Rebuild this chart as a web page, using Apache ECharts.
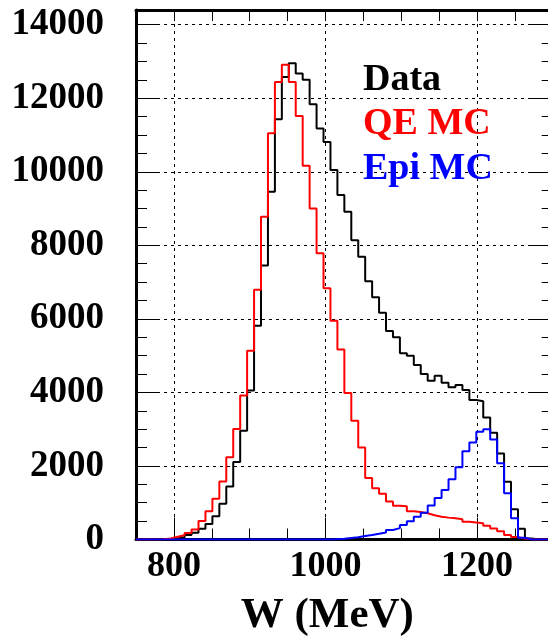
<!DOCTYPE html>
<html><head><meta charset="utf-8">
<script src="https://cdn.jsdelivr.net/npm/echarts@6/dist/echarts.min.js"></script>
<style>html,body{margin:0;padding:0;background:#fff}#c{width:548px;height:637px}</style>
</head><body><div id="c"></div>
<script>
// Histogram binning: 60 bins from 750 to 1300 MeV
const W_MIN = 750, W_MAX = 1300, N_BINS = 60;

const dataCounts = [
  0, 0, 0, 5, 15, 30, 60, 120, 185, 290,
  420, 630, 975, 1440, 2110, 2955, 4050, 5815, 7450, 9460,
  11430, 12580, 12950, 12670, 12500, 11840, 11180, 10810, 10050, 9370,
  8910, 8140, 7690, 7020, 6585, 6165, 5670, 5500, 5064, 4995,
  4746, 4500, 4320, 4450, 4265, 4140, 4200, 4066, 3794, 3760,
  3320, 2900, 2340, 1572, 825, 290, 25, 0, 0, 0
];
const qeMC = [
  0, 0, 0, 5, 25, 76, 114, 180, 275, 500,
  765, 1105, 1580, 2238, 3008, 3915, 5130, 6790, 8780, 11050,
  12440, 12910, 12440, 11520, 10165, 9000, 7785, 6830, 5950, 5170,
  3985, 3228, 2503, 1673, 1392, 1245, 1035, 920, 905, 770,
  745, 712, 660, 620, 595, 575, 548, 484, 462, 445,
  376, 300, 225, 122, 65, 25, 5, 0, 0, 0
];
const epiMC = [
  0, 0, 0, 0, 0, 0, 0, 0, 0, 0,
  0, 0, 0, 0, 0, 0, 0, 0, 0, 0,
  0, 0, 0, 0, 0, 0, 0, 0, 10, 20,
  40, 60, 95, 122, 155, 190, 258, 310, 394, 495,
  620, 730, 925, 1130, 1346, 1637, 1964, 2400, 2640, 2932,
  3000, 2720, 2072, 1256, 576, 45, 0, 0, 0, 0
];
const xMajorTicks = [800, 1000, 1200];
const Y_MAX = 14400, Y_STEP = 2000;
const legendLabels = ['Data', 'QE MC', 'Epi MC'];
const seriesColors = ['#000000', '#ff0000', '#0000ff'];
const xTitle = 'W (MeV)';

const binWidth = (W_MAX - W_MIN) / N_BINS;
function toSteps(counts) {
  const pts = counts.map((v, i) => [W_MIN + i * binWidth, v]);
  pts.push([W_MAX, counts[counts.length - 1]]);
  return pts;
}

const FONT = 'Liberation Serif, "DejaVu Serif", serif';
const frame = { show: true, lineStyle: { color: '#000', width: 3 } };
const dashed = { show: true, lineStyle: { color: '#000', width: 1, type: [3, 4] } };

const chart = echarts.init(document.getElementById('c'), null, { renderer: 'canvas' });
const seriesList = [dataCounts, qeMC, epiMC].map((arr, k) => ({
  name: legendLabels[k],
  type: 'line',
  step: 'end',
  showSymbol: false,
  symbol: 'none',
  xAxisIndex: 0,
  yAxisIndex: 0,
  data: toSteps(arr),
  lineStyle: { color: seriesColors[k], width: 2 },
  itemStyle: { color: seriesColors[k] },
  animation: false,
  z: 3 + k
}));

chart.setOption({
  animation: false,
  backgroundColor: '#fff',
  grid: { left: 136, top: 10, width: 416.7, height: 529.5, containLabel: false, outerBoundsMode: 'none' },
  xAxis: [
    { // bottom minor ticks + labels
      type: 'value', position: 'bottom', min: W_MIN, max: W_MAX, interval: 50,
      axisLine: frame,
      axisTick: { show: true, inside: true, length: 11, lineStyle: { color: '#000', width: 1 } },
      axisLabel: {
        show: true, margin: 9, color: '#000', fontFamily: FONT, fontWeight: 'bold', fontSize: 36,
        formatter: v => (xMajorTicks.indexOf(v) >= 0 ? String(v) : ''),
        showMinLabel: true, showMaxLabel: true
      },
      splitLine: { show: false }
    },
    { // bottom major ticks + grid lines + title
      type: 'value', position: 'bottom', min: W_MIN, max: W_MAX,
      axisLine: { show: false },
      axisTick: { show: true, inside: true, length: 22, customValues: xMajorTicks, lineStyle: { color: '#000', width: 1 } },
      axisLabel: { show: false, customValues: xMajorTicks },
      splitLine: dashed,
      name: xTitle, nameLocation: 'middle', nameGap: 55,
      nameTextStyle: { color: '#000', fontFamily: FONT, fontWeight: 'bold', fontSize: 43, padding: [0, 34, 0, 0] }
    },
    { // top frame
      type: 'value', position: 'top', min: W_MIN, max: W_MAX, interval: 50,
      axisLine: frame,
      axisTick: { show: true, inside: true, length: 11, lineStyle: { color: '#000', width: 1 } },
      axisLabel: { show: false },
      splitLine: { show: false }
    }
  ],
  yAxis: [
    {
      type: 'value', position: 'left', min: 0, max: Y_MAX, interval: Y_STEP,
      axisLine: frame,
      axisTick: { show: true, inside: true, length: 22, lineStyle: { color: '#000', width: 1 } },
      minorTick: { show: true, splitNumber: 4, length: 11, lineStyle: { color: '#000', width: 1 } },
      axisLabel: {
        show: true, margin: 32, color: '#000', fontFamily: FONT, fontWeight: 'bold', fontSize: 37,
        showMaxLabel: false, formatter: v => String(v)
      },
      splitLine: dashed
    },
    {
      type: 'value', position: 'right', min: 0, max: Y_MAX, interval: Y_STEP,
      axisLine: frame,
      axisTick: { show: true, inside: true, length: 22, lineStyle: { color: '#000', width: 1 } },
      minorTick: { show: true, splitNumber: 4, length: 11, lineStyle: { color: '#000', width: 1 } },
      axisLabel: { show: false },
      splitLine: { show: false }
    }
  ],
  graphic: legendLabels.map((t, k) => ({
    type: 'text', left: 363, top: 61 + k * 44.5, z: 10,
    style: { text: t, fill: seriesColors[k], font: 'bold 38px ' + FONT }
  })),
  series: seriesList
});
</script></body></html>
